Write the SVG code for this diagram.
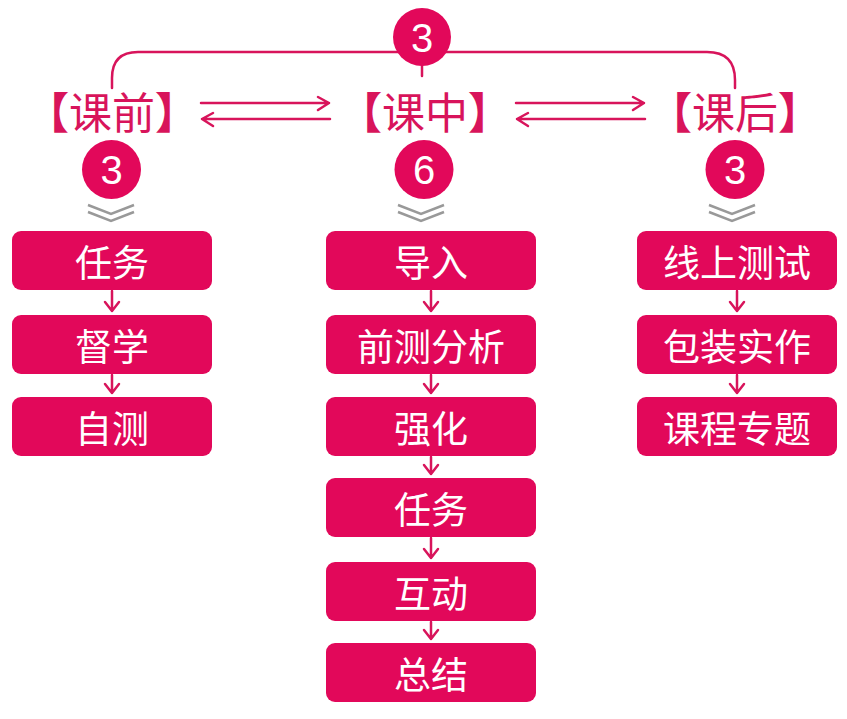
<svg xmlns="http://www.w3.org/2000/svg" width="847" height="719" viewBox="0 0 847 719">
<defs>
<style>
.box{fill:#E2085A;}
.bt{fill:#fff;font-family:"Noto Sans CJK SC","Noto Sans",sans-serif;font-size:37px;text-anchor:middle;}
.lab{fill:#D8145B;font-family:"Noto Sans CJK SC","Noto Sans",sans-serif;font-size:43px;text-anchor:middle;}
.br{font-weight:900;}
.circ{fill:#E2085A;}
.num{fill:#fff;font-family:"Liberation Sans","Noto Sans",sans-serif;font-size:40px;text-anchor:middle;}
.ln{fill:none;stroke:#D8145B;stroke-width:2.5;stroke-linecap:round;stroke-linejoin:round;}
.chev{fill:none;stroke:#999;stroke-width:2.5;}
</style>
</defs>
<rect width="847" height="719" fill="#fff"/>
<g id="connectors">
<path class="ln" d="M112,88 V78 Q112,52 138,52 H707 Q735,52 735,80 V88"/>
<path class="ln" d="M422,64 V76"/>
<path class="ln" d="M201,103 H329 M318,97 L329,103 L318,110"/>
<path class="ln" d="M330,119 H202 M213,113 L202,119 L213,126"/>
<path class="ln" d="M516,103 H644 M633,97 L644,103 L633,110"/>
<path class="ln" d="M645,119 H517 M528,113 L517,119 L528,126"/>
<g class="chev">
<path d="M88,205 L111,214 L134,205 M88,212 L111,221 L134,212"/>
<path d="M398,205 L421,214 L444,205 M398,212 L421,221 L444,212"/>
<path d="M709,205 L732,214 L755,205 M709,212 L732,221 L755,212"/>
</g>
<g class="ln">
<path d="M112,291 V311 M105,302 L112,311 L119,302"/>
<path d="M112,375 V393 M105,384 L112,393 L119,384"/>
<path d="M431,291 V311 M424,302 L431,311 L438,302"/>
<path d="M431,375 V393 M424,384 L431,393 L438,384"/>
<path d="M431,457 V474 M424,465 L431,474 L438,465"/>
<path d="M431,538 V558 M424,549 L431,558 L438,549"/>
<path d="M431,622 V639 M424,630 L431,639 L438,630"/>
<path d="M737,291 V311 M730,302 L737,311 L744,302"/>
<path d="M737,375 V393 M730,384 L737,393 L744,384"/>
</g>
</g>
<g id="top-count"><circle class="circ" cx="422" cy="37" r="29"/><text class="num" x="422" y="52">3</text></g>
<g id="label-pre"><text class="lab" x="112" y="129"><tspan class="br">【</tspan>课前<tspan class="br">】</tspan></text></g>
<g id="label-mid"><text class="lab" x="425" y="129"><tspan class="br">【</tspan>课中<tspan class="br">】</tspan></text></g>
<g id="label-post"><text class="lab" x="735" y="129"><tspan class="br">【</tspan>课后<tspan class="br">】</tspan></text></g>
<g id="count-pre"><circle class="circ" cx="111.5" cy="169.5" r="29.5"/><text class="num" x="111.5" y="184">3</text></g>
<g id="count-mid"><circle class="circ" cx="424" cy="169.5" r="29.5"/><text class="num" x="424" y="184">6</text></g>
<g id="count-post"><circle class="circ" cx="735" cy="169.5" r="29.5"/><text class="num" x="735" y="184">3</text></g>
<g id="pre-1"><rect class="box" x="12" y="231" width="200" height="59" rx="9"/><text class="bt" x="112" y="277">任务</text></g>
<g id="pre-2"><rect class="box" x="12" y="315" width="200" height="59" rx="9"/><text class="bt" x="112" y="361">督学</text></g>
<g id="pre-3"><rect class="box" x="12" y="397" width="200" height="59" rx="9"/><text class="bt" x="112" y="443">自测</text></g>
<g id="mid-1"><rect class="box" x="326" y="231" width="210" height="59" rx="9"/><text class="bt" x="431" y="277">导入</text></g>
<g id="mid-2"><rect class="box" x="326" y="315" width="210" height="59" rx="9"/><text class="bt" x="431" y="361">前测分析</text></g>
<g id="mid-3"><rect class="box" x="326" y="397" width="210" height="59" rx="9"/><text class="bt" x="431" y="443">强化</text></g>
<g id="mid-4"><rect class="box" x="326" y="478" width="210" height="59" rx="9"/><text class="bt" x="431" y="524">任务</text></g>
<g id="mid-5"><rect class="box" x="326" y="562" width="210" height="59" rx="9"/><text class="bt" x="431" y="608">互动</text></g>
<g id="mid-6"><rect class="box" x="326" y="643" width="210" height="59" rx="9"/><text class="bt" x="431" y="689">总结</text></g>
<g id="post-1"><rect class="box" x="637" y="231" width="200" height="59" rx="9"/><text class="bt" x="737" y="277">线上测试</text></g>
<g id="post-2"><rect class="box" x="637" y="315" width="200" height="59" rx="9"/><text class="bt" x="737" y="361">包装实作</text></g>
<g id="post-3"><rect class="box" x="637" y="397" width="200" height="59" rx="9"/><text class="bt" x="737" y="443">课程专题</text></g>
</svg>
